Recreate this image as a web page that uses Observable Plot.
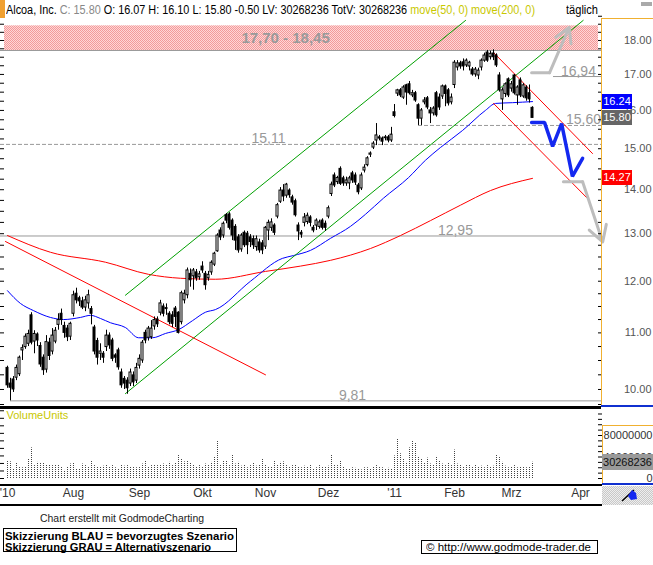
<!DOCTYPE html>
<html><head><meta charset="utf-8">
<script src="https://cdn.jsdelivr.net/npm/d3@7"></script>
<script src="https://cdn.jsdelivr.net/npm/@observablehq/plot@0.6"></script>
<style>
html,body{margin:0;padding:0;background:#fff;}
#wrap{position:relative;width:653px;height:565px;overflow:hidden;font-family:"Liberation Sans",Arial,sans-serif;background:#fff;}
#wrap > *{position:absolute;}
.fit{white-space:nowrap;transform-origin:0 0;line-height:1;}
</style></head><body><div id="wrap"></div>
<script>
// ---------------- DATA ----------------
const open = [10.37,10.10,10.17,10.20,10.26,10.68,10.74,10.80,11.33,10.84,
 10.97,10.76,10.55,10.34,10.82,10.66,10.84,11.15,11.36,11.13,
 11.08,10.93,11.36,11.75,11.66,11.60,11.48,11.56,11.45,11.10,
 10.85,10.62,10.62,10.74,10.95,10.86,10.59,10.68,10.29,10.18,
 10.15,10.10,10.24,10.15,10.41,10.50,11.00,10.91,10.92,11.12,
 11.25,11.38,11.50,11.45,11.36,11.33,11.46,11.38,11.20,11.62,
 11.72,12.15,12.10,12.18,12.08,12.30,12.15,12.06,12.18,12.34,
 12.62,13.07,12.96,13.41,13.43,13.29,13.15,12.92,12.66,13.02,
 13.00,12.92,12.88,12.71,12.81,12.79,12.72,13.07,13.13,13.18,
 13.38,13.72,13.98,13.86,13.98,13.82,13.73,13.18,13.02,13.24,
 13.26,13.36,13.13,13.18,13.15,13.29,13.22,13.38,13.90,14.34,
 14.18,14.50,14.27,14.15,14.15,14.39,14.34,14.10,14.03,14.46,
 14.59,14.85,15.03,15.21,15.29,15.26,15.27,15.29,15.21,15.95,
 16.46,16.55,16.35,16.69,16.72,16.41,16.47,16.14,15.78,16.22,
 16.33,16.00,15.92,16.47,16.35,16.38,16.66,16.55,16.22,16.70,
 17.20,17.32,17.35,17.26,17.23,17.14,17.00,16.97,17.20,17.40,
 17.64,17.50,17.61,17.55,16.97,16.30,16.45,16.86,16.60,16.97,
 16.41,16.83,16.38,16.63,16.47,16.07];
const high = [10.40,10.19,10.22,10.42,10.58,10.78,10.98,11.05,11.38,11.04,
 11.00,10.82,10.60,10.95,10.90,11.08,11.10,11.36,11.45,11.20,
 11.14,11.20,11.80,11.86,11.70,11.68,11.70,11.82,11.50,11.14,
 10.90,10.80,10.66,11.05,11.00,10.90,10.62,10.72,10.35,10.22,
 10.20,10.35,10.30,10.45,10.60,10.86,11.05,11.12,11.23,11.30,
 11.30,11.62,11.55,11.55,11.40,11.40,11.50,11.40,11.80,11.82,
 12.27,12.25,12.26,12.24,12.20,12.40,12.20,12.20,12.42,12.60,
 13.00,13.13,13.26,13.45,13.47,13.33,13.20,12.98,13.00,13.06,
 13.05,12.98,12.95,12.95,12.88,12.85,13.16,13.30,13.33,13.22,
 13.68,14.05,14.12,14.15,14.02,13.87,13.78,13.24,13.07,13.45,
 13.46,13.40,13.18,13.33,13.30,13.33,13.28,13.62,14.18,14.40,
 14.32,14.55,14.32,14.30,14.32,14.44,14.40,14.15,14.40,14.60,
 14.80,14.92,15.18,15.65,15.34,15.30,15.34,15.34,15.55,16.16,
 16.58,16.60,16.68,16.72,16.80,16.55,16.52,16.18,16.05,16.35,
 16.38,16.08,16.10,16.52,16.45,16.70,16.70,16.60,16.45,17.40,
 17.40,17.38,17.45,17.45,17.38,17.20,17.20,17.18,17.45,17.62,
 17.70,17.68,17.72,17.60,17.05,16.62,16.76,16.90,16.80,17.00,
 16.68,16.90,16.74,16.68,16.70,16.10];
const low = [10.02,9.81,9.95,10.15,10.22,10.50,10.70,10.75,10.78,10.62,
 10.75,10.38,10.24,10.28,10.50,10.60,10.80,11.05,11.14,10.90,
 10.84,10.86,11.30,11.55,11.50,11.44,11.40,11.45,11.15,10.60,
 10.42,10.50,10.45,10.66,10.70,10.48,10.45,10.33,10.02,10.00,
 9.92,10.05,10.05,10.10,10.35,10.45,10.80,10.85,10.88,11.05,
 11.10,11.32,11.30,11.33,11.15,11.10,11.10,10.98,11.15,11.55,
 11.65,11.88,11.82,12.00,12.02,12.16,11.82,12.00,12.12,12.30,
 12.60,12.85,12.90,13.22,13.08,12.85,12.64,12.58,12.60,12.70,
 12.55,12.70,12.66,12.62,12.58,12.55,12.66,12.85,13.05,12.96,
 13.33,13.68,13.72,13.80,13.80,13.64,13.37,12.85,12.90,13.15,
 13.20,13.15,13.02,13.07,13.10,13.08,13.05,13.33,13.84,14.05,
 14.12,14.10,14.08,14.08,14.00,14.15,14.10,13.88,13.98,14.40,
 14.55,14.78,14.98,15.08,15.20,15.08,15.20,15.15,15.16,15.80,
 16.38,16.35,16.30,16.14,16.42,16.35,16.22,15.60,15.60,16.15,
 16.02,15.65,15.85,15.82,16.00,16.30,16.10,16.12,16.15,16.60,
 17.10,17.15,17.10,17.20,17.10,16.95,16.92,16.85,17.10,17.35,
 17.35,17.42,17.40,17.20,16.50,16.00,16.35,16.35,16.50,16.42,
 16.14,16.35,16.33,16.25,16.20,15.80];
const close = [10.07,10.03,10.00,10.37,10.55,10.72,10.93,10.98,10.82,10.98,
 10.86,10.43,10.33,10.83,10.58,10.95,11.04,11.24,11.24,11.00,
 10.92,11.17,11.72,11.62,11.60,11.48,11.62,11.72,11.36,10.66,
 10.55,10.66,10.55,10.95,10.77,10.53,10.55,10.38,10.07,10.10,
 10.02,10.29,10.12,10.37,10.53,10.82,10.86,11.08,11.08,11.24,
 11.16,11.56,11.36,11.47,11.20,11.17,11.30,11.00,11.76,11.75,
 12.22,12.02,12.22,12.06,12.14,12.22,11.92,12.13,12.38,12.57,
 12.96,12.92,13.22,13.29,13.13,12.96,12.85,12.64,12.96,12.75,
 12.75,12.82,12.75,12.88,12.64,12.64,13.13,13.24,13.25,13.02,
 13.64,13.98,13.84,14.12,13.87,13.70,13.41,13.05,12.98,13.36,
 13.40,13.24,13.07,13.29,13.25,13.13,13.13,13.57,14.12,14.10,
 14.28,14.14,14.15,14.22,14.27,14.22,14.17,13.94,14.34,14.53,
 14.76,14.88,15.13,15.34,15.26,15.18,15.29,15.21,15.36,15.85,
 16.55,16.41,16.63,16.49,16.47,16.47,16.27,15.78,16.00,16.27,
 16.08,15.92,16.05,15.87,16.08,16.66,16.45,16.19,16.35,17.34,
 17.32,17.23,17.23,17.40,17.34,17.00,17.14,17.11,17.40,17.55,
 17.40,17.60,17.50,17.26,16.55,16.55,16.72,16.41,16.72,16.47,
 16.63,16.41,16.69,16.33,16.30,15.80];
// volume in millions
const volumeM = [33,31,17,28,21,20,21,37,57,24,
 30,28,28,25,26,24,26,25,22,15,
 22,27,28,18,17,27,24,22,33,24,
 22,21,23,26,22,24,20,18,25,23,
 24,22,21,20,22,27,32,21,24,25,
 24,26,27,25,30,24,28,43,37,31,
 32,29,26,22,24,21,27,26,30,41,
 70,26,33,33,24,43,27,30,23,25,
 20,24,28,23,26,37,25,21,22,32,
 26,30,31,24,22,24,26,21,20,23,
 22,25,18,20,24,22,21,23,43,26,
 24,32,21,18,17,20,19,18,16,20,
 20,18,21,24,21,20,17,19,18,42,
 73,46,37,30,57,70,66,41,37,28,
 38,27,26,41,33,27,24,29,24,53,
 27,25,22,24,26,21,25,22,23,20,
 24,21,23,44,41,30,23,20,21,24,
 20,21,22,20,21,30.268236];
// moving averages: [trading-day index, price]
const ma50 = [[0,11.81],[4.3,11.56],[8.7,11.42],[14.3,11.29],[18.7,11.25],[24.3,11.29],[27.7,11.33],[31,11.27],[34.3,11.19],[39.3,11.10],[43.7,10.91],[48.3,10.91],[52.7,10.99],[57,11.06],[61.7,11.23],[66,11.39],[69.3,11.44],[81,12.0],[91.6,12.47],[95.3,12.53],[101,12.64],[107.7,12.90],[114.3,13.16],[119.3,13.43],[125.3,13.80],[133.7,14.29],[139.3,14.71],[144.3,15.03],[151.7,15.47],[159.3,16.00],[162.7,16.19],[168.3,16.21],[175,16.24]];
const ma200 = [[0,12.96],[14.3,12.60],[32.7,12.39],[47,12.14],[57.7,12.06],[69.3,12.04],[86,12.20],[97.7,12.31],[107.7,12.43],[121,12.68],[131,12.96],[141,13.29],[151,13.64],[161,13.98],[175,14.27]];
// trend lines
const greenUpper = [[39.3,11.72],[152.7,18.62]];
const greenLower = [[39.3,9.93],[191.9,18.62]];
const redDown = [[-0.67,12.83],[86,10.25]];
const redUpperR = [[162,17.64],[195,14.88]];
const redLowerR = [[162,16.19],[193.7,13.77]];
// projections
const bluePath = [[174.7,15.68],[179,15.68],[181.7,15.06],[184.7,15.65],[188.3,14.32],[191.7,14.76]];
const grayUpStem = [[174.7,17.05],[180.7,17.05]];
const grayDownStem = [[185.3,14.19],[191.7,14.19]];
const grayHeads = [{x1:180.7,y1:17.05,x2:187.2,y2:18.40},{x1:191.7,y1:14.19,x2:198.4,y2:12.82}];
// levels
const zoneLow = 17.70, zoneHigh = 18.45, zoneLabel = "17,70 - 18,45", zoneLabelIdx = 92.7;
const solidLevels = [17.70, 16.94, 12.95, 9.81];
const solidFrom = [-7/3, 182, -7/3, 1];
const dashedLevels = [15.60, 15.11];
const dashedFrom = [137, -7/3];
const levelLabels = ["16,94","15,60","15,11","12,95","9,81"];
const levelLabelVal = [16.94, 15.60, 15.11, 12.95, 9.81];
const levelLabelIdx = [190.3, 192.0, 87, 149.3, 115];
// axes
const priceTicks = [10,11,12,13,14,15,16,17,18];
const monthLabels = ["'10","Aug","Sep","Okt","Nov","Dez","'11","Feb","Mrz","Apr"];
const monthIndex = [0,22,44,65,86,107,129,149,168,191];
const volTicks = [0,40,80];
const xEnd = 198;

// ---------------- BUILD ----------------
const N = close.length;
const candles = d3.range(N).map(i => ({i, o: open[i], h: high[i], l: low[i], c: close[i], v: volumeM[i]}));
const wrap = document.getElementById("wrap");
function add(html, style){ const d=document.createElement("div"); d.innerHTML=html; Object.assign(d.style, style); wrap.appendChild(d); return d; }
function fit(el, w){ const r=el.getBoundingClientRect().width; if(r>0) el.style.transform=`scaleX(${w/r})`; }
const pt = a => ({x:a[0], y:a[1]});
const minor = d3.range(39, 76).map(k => k/4);

const X = {type:"linear", domain:[-7/3, xEnd], axis:null};
const priceChart = Plot.plot({
  width:653, height:407, marginLeft:0, marginRight:52, marginTop:15, marginBottom:0,
  style:{background:"transparent", fontFamily:"Liberation Sans, Arial, sans-serif", fontSize:"11px", overflow:"visible"},
  x: X,
  y: {type:"log", domain:[9.701, 18.774], axis:null, label:null},
  marks:[
    Plot.rect([{a:zoneLow,b:zoneHigh}], {y1:"a", y2:"b", fill:"url(#pinkdots)", insetLeft:4, insetRight:3}),
    Plot.text([zoneLabel], {x:()=>zoneLabelIdx, y:()=>Math.sqrt(zoneLow*zoneHigh), text:d=>d, fill:"#9a9a9a", fontSize:15, fontWeight:"bold"}),
    Plot.ruleY(solidLevels.map((v,k)=>({v, f:solidFrom[k], t:xEnd})), {y:"v", x1:"f", x2:"t", stroke:"#999", strokeWidth:1}),
    Plot.ruleY(dashedLevels.map((v,k)=>({v, f:dashedFrom[k], t:xEnd})), {y:"v", x1:"f", x2:"t", stroke:"#999", strokeWidth:1, strokeDasharray:"4,2"}),
    Plot.text(levelLabels.map((t,k)=>({t, v:levelLabelVal[k], i:levelLabelIdx[k]})), {x:"i", y:"v", text:"t", fill:"#999", fontSize:14, lineAnchor:"bottom", dy:-1}),
    Plot.line(ma200.map(pt), {x:"x", y:"y", stroke:"#ff0000", strokeWidth:1, curve:"monotone-x"}),
    Plot.line(ma50.map(pt), {x:"x", y:"y", stroke:"#0000ff", strokeWidth:1, curve:"monotone-x"}),
    Plot.line(greenUpper.map(pt), {x:"x", y:"y", stroke:"#00a000", strokeWidth:1, clip:true}),
    Plot.line(greenLower.map(pt), {x:"x", y:"y", stroke:"#00a000", strokeWidth:1, clip:true}),
    Plot.line(redDown.map(pt), {x:"x", y:"y", stroke:"#ff0000", strokeWidth:1}),
    Plot.line(redUpperR.map(pt), {x:"x", y:"y", stroke:"#ff0000", strokeWidth:1}),
    Plot.line(redLowerR.map(pt), {x:"x", y:"y", stroke:"#ff0000", strokeWidth:1}),
    Plot.ruleX(candles, {x:"i", y1:"l", y2:"h", stroke:"#000"}),
    Plot.rect(candles, {x1:d=>d.i-1/3, x2:d=>d.i+1/3, y1:"o", y2:"c", fill:d=>d.c>=d.o?"#fff":"#000", stroke:"#000"}),
    Plot.line(grayUpStem.map(pt), {x:"x", y:"y", stroke:"#bdbdbd", strokeWidth:3}),
    Plot.line(grayDownStem.map(pt), {x:"x", y:"y", stroke:"#bdbdbd", strokeWidth:3}),
    Plot.arrow(grayHeads, {x1:"x1", y1:"y1", x2:"x2", y2:"y2", stroke:"#bdbdbd", strokeWidth:3, headLength:9}),
    Plot.line(bluePath.map(pt), {x:"x", y:"y", stroke:"#1428f0", strokeWidth:3.5, strokeLinejoin:"miter"}),
    Plot.axisY({anchor:"right", ticks:minor, tickSize:4, insetRight:4, tickFormat:()=>"", label:null, color:"#000"}),
    Plot.axisY({anchor:"left", ticks:minor, tickSize:4, insetLeft:4, tickFormat:()=>"", label:null, color:"#000"}),
    Plot.axisY({anchor:"right", ticks:priceTicks, tickSize:0, tickPadding:50, textAnchor:"end", tickFormat:d3.format(".2f"), label:null, color:"#555", fontSize:11})
  ]
});
// pink dotted pattern for the resistance zone
const defs = d3.select(priceChart).insert("defs", ":first-child");
const pat = defs.append("pattern").attr("id","pinkdots").attr("width",2).attr("height",2).attr("patternUnits","userSpaceOnUse");
pat.append("rect").attr("width",2).attr("height",2).attr("fill","#ffd6d6");
pat.append("rect").attr("width",1).attr("height",1).attr("fill","#f29a9a");
pat.append("rect").attr("x",1).attr("y",1).attr("width",1).attr("height",1).attr("fill","#f29a9a");
priceChart.style.left="0px"; priceChart.style.top="0px";
wrap.appendChild(priceChart);

const volChart = Plot.plot({
  width:653, height:98, marginLeft:0, marginRight:52, marginTop:0, marginBottom:20,
  style:{background:"transparent", fontFamily:"Liberation Sans, Arial, sans-serif", fontSize:"11px", overflow:"visible"},
  x: X,
  y: {domain:[-13.02, 132.09], axis:null, label:null},
  marks:[
    Plot.ruleX(candles, {x:"i", y1:()=>0, y2:"v", stroke:"#444", strokeDasharray:"1,1"}),
    Plot.text(["VolumeUnits"], {frameAnchor:"top-left", dx:6, dy:4, fill:"#c8c800", fontSize:11}),
    Plot.axisY({anchor:"left", ticks:d3.range(0,130,14), tickSize:4, insetLeft:4, tickFormat:()=>"", label:null, color:"#000"}),
    Plot.axisY({anchor:"right", ticks:d3.range(0,130,10), tickSize:4, insetRight:4, tickFormat:()=>"", label:null, color:"#000"}),
    Plot.axisY({anchor:"right", ticks:volTicks, tickSize:0, tickPadding:51, textAnchor:"end", tickFormat:d=>String(d*1e6), label:null, color:"#333", fontSize:11}),
    Plot.axisX({anchor:"bottom", ticks:monthIndex, tickSize:0, tickPadding:3, tickFormat:i=>monthLabels[monthIndex.indexOf(i)], label:null, color:"#333", fontSize:12})
  ]
});
volChart.style.left="0px"; volChart.style.top="407px";
wrap.appendChild(volChart);

// frame lines / decorations
add("", {left:"0px", top:"0px", width:"5px", height:"18px", background:"#f0a030"});
add("", {left:"601px", top:"19px", width:"1px", height:"387px", background:"#f0b030"});
add("", {left:"601px", top:"18px", width:"52px", height:"1px", background:"#f0b030"});
add("", {left:"0px", top:"406px", width:"601px", height:"3px", background:"#000"});
add("", {left:"601px", top:"405px", width:"52px", height:"2px", background:"#1030d0"});
add("", {left:"602px", top:"425px", width:"51px", height:"1px", background:"#f0b030"});
add("", {left:"602px", top:"425px", width:"1px", height:"59px", background:"#f0b030"});
add("", {left:"602px", top:"483px", width:"51px", height:"2px", background:"#1030d0"});
add("", {left:"0px", top:"484px", width:"602px", height:"2px", background:"#000"});
add("", {left:"0px", top:"504px", width:"602px", height:"2px", background:"#000"});
add("", {left:"602px", top:"486px", width:"51px", height:"19px", background:"repeating-conic-gradient(#c8c8c8 0% 25%, #eeeeee 0% 50%) 0 0/2px 2px"});
add('<svg width="20" height="16"><path d="M2,14 L14,3" stroke="#000" stroke-width="1.5"/><path d="M8,9 L12,3 L16,6 L17,12 L11,13 Z" fill="#1428f0"/></svg>', {left:"620px", top:"487px"});
add("", {left:"641px", top:"2px", width:"11px", height:"4px", background:"#aaa"});

// price label boxes on the right axis
const ys = priceChart.scale("y");
const boxes = [
  {v: ma50[ma50.length-1][1], bg:"#0000ff", fg:"#fff"},
  {v: close[N-1], bg:"#666", fg:"#fff"},
  {v: ma200[ma200.length-1][1], bg:"#ff0000", fg:"#fff"}
];
for (const b of boxes) {
  const y = ys.apply(b.v);
  add(b.v.toFixed(2), {left:"602px", top:(y-7.5)+"px", width:"30px", height:"15px", background:b.bg, color:b.fg, font:"11px 'Liberation Sans',Arial", lineHeight:"15px", textAlign:"center"});
}
// volume label box
const lastVol = volumeM[N-1]*1e6;
const yv = volChart.scale("y").apply(volumeM[N-1]) + 407;
add(String(Math.round(lastVol)), {left:"602px", top:(yv-8)+"px", width:"51px", height:"16px", background:"#9a9a9a", color:"#111", font:"11px 'Liberation Sans',Arial", lineHeight:"16px", textAlign:"center", overflow:"hidden"});

// header
const chg = (close[N-1]-close[N-2]).toFixed(2);
const hdr = add(`<span>Alcoa, Inc.</span> <span style="color:#888">C: ${close[N-1].toFixed(2)}</span> O: ${open[N-1].toFixed(2)} H: ${high[N-1].toFixed(2)} L: ${low[N-1].toFixed(2)} ${chg} LV: ${Math.round(lastVol)} TotV: ${Math.round(lastVol)} <span style="color:#c8c800">move(50, 0) move(200, 0)</span>`,
  {left:"6px", top:"3px", font:"12px 'Liberation Sans',Arial", color:"#000"});
hdr.className="fit"; fit(hdr, 529);
const tg = add("täglich", {left:"566px", top:"3px", font:"12px 'Liberation Sans',Arial", color:"#000"});
tg.className="fit"; fit(tg, 32);

// footer
const f1 = add("Chart erstellt mit GodmodeCharting", {left:"40px", top:"512px", font:"11px 'Liberation Sans',Arial", color:"#222"});
f1.className="fit"; fit(f1, 164);
add("", {left:"3px", top:"528px", width:"232px", height:"22px", border:"1px solid #000"});
const s1 = add("Skizzierung BLAU = bevorzugtes Szenario", {left:"5px", top:"530px", font:"bold 11px 'Liberation Sans',Arial", color:"#000"});
s1.className="fit"; fit(s1, 229);
const s2 = add("Skizzierung GRAU = Alternativszenario", {left:"5px", top:"541px", font:"bold 11px 'Liberation Sans',Arial", color:"#000"});
s2.className="fit"; fit(s2, 206);
add("", {left:"421px", top:"540px", width:"175px", height:"12px", border:"1px solid #000"});
const c1 = add("© http://www.godmode-trader.de", {left:"426px", top:"541px", font:"11px 'Liberation Sans',Arial", color:"#000"});
c1.className="fit"; fit(c1, 165);
</script></body></html>
